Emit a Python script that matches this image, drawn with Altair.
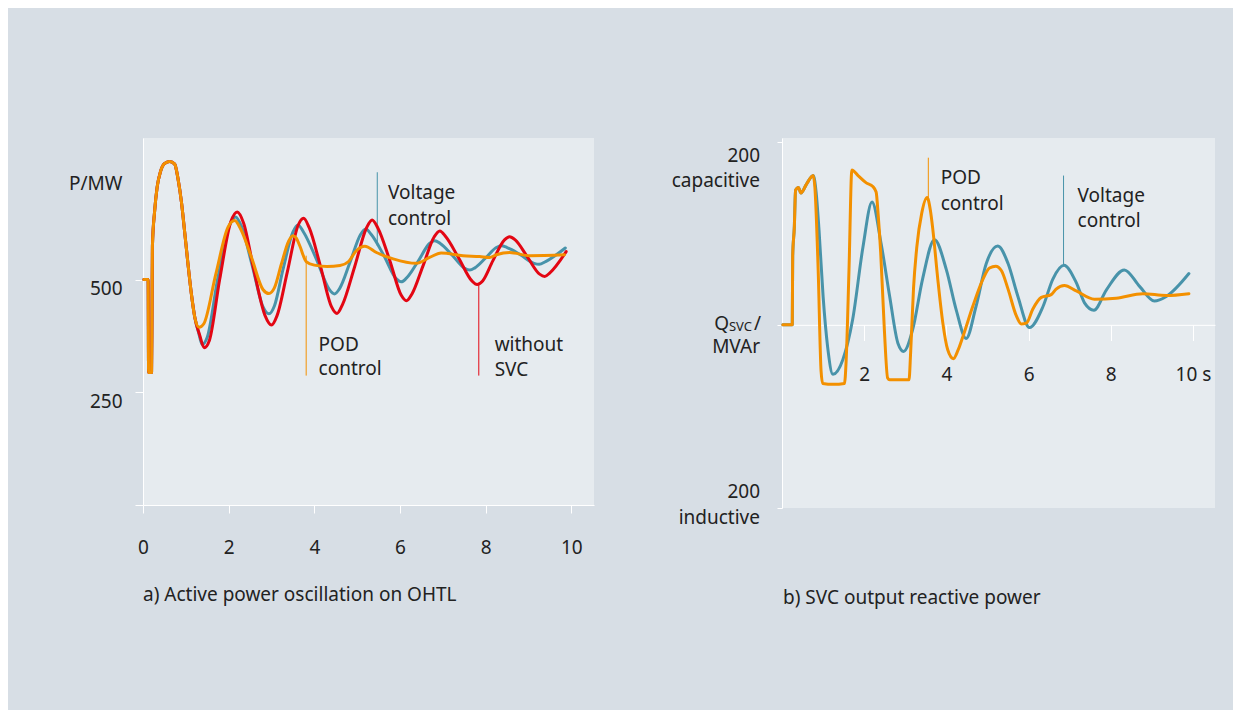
import altair as alt
import pandas as pd

FONT = "Noto Sans"
TEXT = "#222222"
BLUE = "#4893aa"
RED = "#e30613"
ORANGE = "#f39000"
BG = "#d7dee5"
PLOT_BG = "#e6ebef"

# ---------------- Left panel: active power P/MW vs time (s) ----------------
START_T = [0.02, 0.12, 0.13, 0.20, 0.21, 0.22, 0.27, 0.33, 0.41, 0.50, 0.62,
           0.74, 0.82, 0.90, 0.97, 1.05, 1.13, 1.21]
START_P = [500, 500, 294, 294, 420, 575, 650, 705, 740, 757, 762,
           756, 722, 670, 608, 535, 468, 416]

RED_T = [1.32, 1.43, 1.55, 1.79, 2.05, 2.20, 2.35, 2.58, 2.85, 3.00, 3.13, 3.37, 3.62, 3.75, 3.88,
         4.14, 4.40, 4.53, 4.66, 4.94, 5.22, 5.35, 5.48, 5.76, 6.03, 6.15, 6.28, 6.54, 6.80, 6.93,
         7.07, 7.37, 7.68, 7.80, 7.93, 8.17, 8.44, 8.56, 8.69, 8.97, 9.26, 9.38, 9.50, 9.88]
RED_P = [378, 349, 365, 500, 628, 650, 625, 525, 420, 399, 420, 517, 620, 636, 615,
         531, 440, 425, 445, 528, 615, 632, 615, 543, 465, 453, 468, 531, 595, 608,
         595, 548, 497, 489, 497, 542, 588, 595, 588, 551, 512, 507, 515, 562]

BLUE_T = [1.30, 1.38, 1.50, 1.75, 2.02, 2.16, 2.30, 2.55, 2.80, 2.94, 3.07, 3.27, 3.50, 3.62, 3.75,
          4.05, 4.35, 4.47, 4.59, 4.84, 5.08, 5.20, 5.33, 5.62, 5.91, 6.03, 6.15, 6.42, 6.69, 6.81,
          6.94, 7.22, 7.51, 7.63, 7.75, 8.00, 8.25, 8.37, 8.50, 8.81, 9.13, 9.25, 9.40, 9.86]
BLUE_P = [382, 356, 372, 505, 620, 639, 618, 531, 440, 424, 442, 523, 605, 621, 605,
          545, 478, 468, 480, 540, 600, 612, 600, 554, 502, 495, 503, 540, 580, 586,
          580, 554, 525, 521, 526, 548, 571, 575, 571, 555, 536, 534, 540, 570]

ORANGE_T = [1.31, 1.42, 1.70, 1.98, 2.14, 2.28, 2.53, 2.80, 2.94, 3.07, 3.23, 3.40, 3.50, 3.58, 3.66,
            3.81, 4.00, 4.30, 4.60, 4.80, 4.98, 5.18, 5.45, 5.84, 6.38, 6.69, 6.96, 7.47, 7.86, 8.09,
            8.25, 8.56, 9.03, 9.84]
ORANGE_P = [394, 402, 512, 615, 631, 612, 550, 478, 469, 482, 534, 585, 597, 592, 575,
            540, 532, 529, 531, 540, 564, 574, 560, 546, 536, 549, 559, 553, 551, 549,
            555, 560, 553, 555]

LEFT_X_TICKS = [0, 2, 4, 6, 8, 10]
LEFT_Y_TICKS = [0, 250, 500]

L_ANN_T = [5.47, 3.81, 7.84]
L_ANN_TOP = [738, 553, 490]
L_ANN_BOTTOM = [575, 287, 287]
L_ANN_COLOR = [BLUE, ORANGE, RED]

L_TXT = ["Voltage", "control", "POD", "control", "without", "SVC"]
L_TXT_T = [5.72, 5.72, 4.10, 4.10, 8.21, 8.21]
L_TXT_P = [679, 621, 342, 288, 342, 287]

TITLE_A = "a) Active power oscillation on OHTL"

# ---------------- Right panel: SVC reactive power Q/MVAr vs time (s) ----------------
R_START_T = [0.02, 0.25, 0.26, 0.30, 0.33, 0.40, 0.46, 0.60, 0.76]
R_START_Q = [0, 0, 75, 107, 147, 150, 144, 154, 163]

R_ORANGE_T = [0.80, 0.88, 0.95, 0.99, 1.25, 1.52, 1.56, 1.63, 1.70, 1.85, 2.05, 2.21, 2.29, 2.34, 2.40,
              2.49, 2.57, 2.62, 3.09, 3.13, 3.20, 3.28, 3.40, 3.53, 3.61, 3.67, 3.79, 3.91, 4.03, 4.17,
              4.28, 4.40, 4.64, 4.89, 5.05, 5.20, 5.34, 5.50, 5.70, 5.82, 5.95, 6.10, 6.31, 6.55, 6.67,
              6.87, 7.16, 7.60, 8.13, 8.78, 9.35, 9.90]
R_ORANGE_Q = [150, 60, -50, -64, -65, -64, -40, 60, 169, 163, 155, 151, 145, 120, 80,
              -5, -58, -60, -60, -30, 40, 85, 122, 139, 125, 104, 50, 3, -27, -37,
              -28, -13, 20, 50, 62, 64, 59, 39, 10, 1, 2, 17, 30, 33, 39,
              43, 37, 28, 29, 34, 32, 34]

R_BLUE_T = [0.83, 0.90, 1.00, 1.11, 1.24, 1.48, 1.72, 1.97, 2.19, 2.41, 2.62, 2.82, 2.96, 3.18, 3.42,
            3.71, 4.00, 4.24, 4.48, 4.72, 4.97, 5.25, 5.50, 5.74, 6.02, 6.35, 6.59, 6.86, 7.16, 7.36,
            7.59, 7.89, 8.33, 8.70, 9.06, 9.35, 9.90]
R_BLUE_Q = [145, 104, 31, -24, -54, -38, 6, 85, 134, 89, 31, -20, -29, -5, 50,
            93, 60, 16, -15, 20, 67, 86, 67, 31, -3, 20, 50, 65, 46, 24,
            16, 38, 60, 42, 26, 31, 56]

RIGHT_X_TICKS = [2, 4, 6, 8, 10]
RIGHT_Y_TICKS = [-200, 0, 200]

R_ANN_T = [3.56, 6.85]
R_ANN_TOP = [182.5, 163]
R_ANN_BOTTOM = [138, 66]
R_ANN_COLOR = [ORANGE, BLUE]

R_TXT = ["POD", "control", "Voltage", "control"]
R_TXT_T = [3.86, 3.86, 7.19, 7.19]
R_TXT_Q = [154, 125, 134.6, 106.7]

R_YLAB = ["200", "capacitive", "MVAr", "200", "inductive"]
R_YLAB_Q = [178, 150, -31, -189.5, -217]

Q_LETTER, Q_SUB, Q_SLASH = "Q", "SVC", "/"

TITLE_B = "b) SVC output reactive power"

# ---------------- sizes ----------------
LW, LH = 451, 367
RW, RH = 433, 370
L_DOMAIN_X = [0, 10.53]
L_DOMAIN_Y = [0, 814]
R_DOMAIN_X = [0, 10.535]
R_DOMAIN_Y = [-200, 204]
SPACING = 188
ORIGIN_X, ORIGIN_Y = 135, 130
TOTAL_W, TOTAL_H = 1225, 702

# ---------------- left chart ----------------
lx = alt.X("t:Q", scale=alt.Scale(domain=L_DOMAIN_X, nice=False, zero=False),
           axis=alt.Axis(values=LEFT_X_TICKS, tickSize=8, labelPadding=25, labelFlush=False, title=""))
ly = alt.Y("p:Q", scale=alt.Scale(domain=L_DOMAIN_Y, nice=False),
           axis=alt.Axis(values=LEFT_Y_TICKS, tickSize=8, labelPadding=13, labelBaseline="top",
                         labelExpr="datum.value == 0 ? '' : datum.label",
                         title="P/MW", titleAngle=0, titleAlign="right", titleBaseline="alphabetic",
                         titleX=-21, titleY=51))


def curve(ts, vs, color, x, y, field):
    df = pd.DataFrame({"t": ts, field: vs})
    return alt.Chart(df).mark_line(color=color, strokeWidth=3, interpolate="monotone",
                                   strokeJoin="round", strokeCap="round").encode(x=x, y=y)


def label_text(text, size=19, align="left"):
    return alt.Chart(pd.DataFrame({"label": [text]})).mark_text(
        align=align, baseline="alphabetic", fontSize=size, font=FONT, color=TEXT)


anchor_l = alt.Chart(pd.DataFrame({"a": [0]})).mark_rule(strokeOpacity=0).encode(
    x=alt.value(-ORIGIN_X), y=alt.value(-ORIGIN_Y), y2=alt.value(-ORIGIN_Y + 1))

l_rules = alt.Chart(pd.DataFrame({"t": L_ANN_T, "p": L_ANN_TOP, "p2": L_ANN_BOTTOM, "c": L_ANN_COLOR})).mark_rule(
    strokeWidth=1).encode(x=lx, y=ly, y2="p2:Q", color=alt.Color("c:N", scale=None))

l_text = alt.Chart(pd.DataFrame({"t": L_TXT_T, "p": L_TXT_P, "label": L_TXT})).mark_text(
    align="left", baseline="alphabetic", fontSize=19, font=FONT, color=TEXT).encode(x=lx, y=ly, text="label:N")

l_title = label_text(TITLE_A).encode(x=alt.value(0), y=alt.value(462.7), text="label:N")

left = alt.layer(
    anchor_l,
    l_rules,
    curve(START_T + BLUE_T, START_P + BLUE_P, BLUE, lx, ly, "p"),
    curve(START_T + RED_T, START_P + RED_P, RED, lx, ly, "p"),
    curve(START_T + ORANGE_T, START_P + ORANGE_P, ORANGE, lx, ly, "p"),
    l_text,
    l_title,
).properties(width=LW, height=LH)

# ---------------- right chart ----------------
zero_offset = -RH * (0 - R_DOMAIN_Y[0]) / (R_DOMAIN_Y[1] - R_DOMAIN_Y[0])
zero_px = RH * (R_DOMAIN_Y[1] - 0) / (R_DOMAIN_Y[1] - R_DOMAIN_Y[0])
rx = alt.X("t:Q", scale=alt.Scale(domain=R_DOMAIN_X, nice=False, zero=False),
           axis=alt.Axis(values=RIGHT_X_TICKS, tickSize=15.7, labelPadding=25, labelFlush=False,
                         offset=zero_offset, title="",
                         labelExpr="datum.value == 10 ? '10 s' : datum.label"))
ry = alt.Y("q:Q", scale=alt.Scale(domain=R_DOMAIN_Y, nice=False),
           axis=alt.Axis(values=RIGHT_Y_TICKS, tickSize=5, labels=False, title=""))

anchor_r = alt.Chart(pd.DataFrame({"a": [0]})).mark_rule(strokeOpacity=0).encode(
    x=alt.value(TOTAL_W - (ORIGIN_X + LW + SPACING)), y=alt.value(TOTAL_H - ORIGIN_Y - 1),
    y2=alt.value(TOTAL_H - ORIGIN_Y))

r_rules = alt.Chart(pd.DataFrame({"t": R_ANN_T, "q": R_ANN_TOP, "q2": R_ANN_BOTTOM, "c": R_ANN_COLOR})).mark_rule(
    strokeWidth=1).encode(x=rx, y=ry, y2="q2:Q", color=alt.Color("c:N", scale=None))

r_text = alt.Chart(pd.DataFrame({"t": R_TXT_T, "q": R_TXT_Q, "label": R_TXT})).mark_text(
    align="left", baseline="alphabetic", fontSize=19, font=FONT, color=TEXT).encode(x=rx, y=ry, text="label:N")

r_ylab = alt.Chart(pd.DataFrame({"q": R_YLAB_Q, "label": R_YLAB})).mark_text(
    align="right", baseline="alphabetic", fontSize=19, font=FONT, color=TEXT).encode(
    x=alt.value(-22), y=ry, text="label:N")

q_letter = label_text(Q_LETTER, 19, "right").encode(x=alt.value(-53), y=alt.value(zero_px + 5), text="label:N")
q_sub = label_text(Q_SUB, 13, "right").encode(x=alt.value(-30), y=alt.value(zero_px + 6), text="label:N")
q_slash = label_text(Q_SLASH, 19, "right").encode(x=alt.value(-21), y=alt.value(zero_px + 5), text="label:N")

r_title = label_text(TITLE_B).encode(x=alt.value(1), y=alt.value(466), text="label:N")

right = alt.layer(
    anchor_r,
    r_rules,
    curve(R_START_T + R_BLUE_T, R_START_Q + R_BLUE_Q, BLUE, rx, ry, "q"),
    curve(R_START_T + R_ORANGE_T, R_START_Q + R_ORANGE_Q, ORANGE, rx, ry, "q"),
    r_text,
    r_ylab,
    q_letter,
    q_sub,
    q_slash,
    r_title,
).properties(width=RW, height=RH)

chart = alt.hconcat(left, right, spacing=SPACING, bounds="flush").properties(
    padding={"left": 0, "top": 0, "right": 0, "bottom": 0}
).configure(background=BG).configure_view(fill=PLOT_BG, strokeWidth=0).configure_axis(
    domainColor="white", tickColor="white", domainWidth=1, tickWidth=1, grid=False,
    labelFont=FONT, labelFontSize=19, labelColor=TEXT,
    titleFont=FONT, titleFontSize=19, titleColor=TEXT, titleFontWeight="normal",
)

chart.save("out.html", embed_options={"renderer": "svg", "actions": False})
